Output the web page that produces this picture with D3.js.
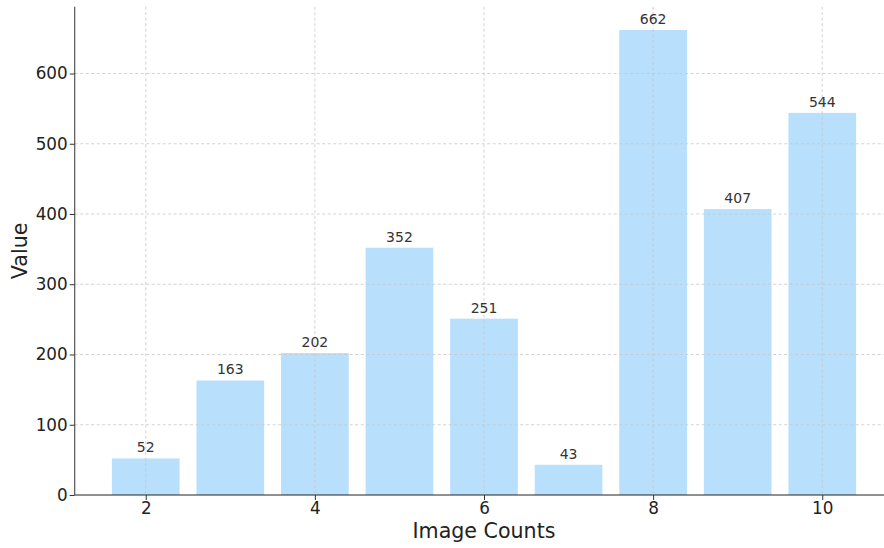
<!DOCTYPE html>
<html>
<head>
<meta charset="utf-8">
<script src="https://cdn.jsdelivr.net/npm/d3@7"></script>
<style>
  html, body { margin: 0; padding: 0; background: #fff; }
  svg { display: block; font-family: "DejaVu Sans", sans-serif; }
</style>
</head>
<body>
<svg id="chart" width="884" height="548"></svg>
<script>
// Bar chart data
const categories = [2, 3, 4, 5, 6, 7, 8, 9, 10];
const values = [52, 163, 202, 352, 251, 43, 662, 407, 544];
const xTicks = [2, 4, 6, 8, 10];
const yTicks = [0, 100, 200, 300, 400, 500, 600];
const xLabel = "Image Counts";
const yLabel = "Value";

const svg = d3.select("#chart");
const margin = { left: 74.7, right: -9.3, top: 6.7, bottom: 53 };
const W = 884, H = 548;
const x0 = margin.left, x1 = W - margin.right;
const y0 = H - margin.bottom, y1 = margin.top;

const barW = 0.8;
const xMin = d3.min(categories) - barW / 2, xMax = d3.max(categories) + barW / 2;
const pad = (xMax - xMin) * 0.05;
const x = d3.scaleLinear().domain([xMin - pad, xMax + pad]).range([x0, x1]);
const y = d3.scaleLinear().domain([0, d3.max(values) * 1.05]).range([y0, y1]);

const barColor = "#b8dffc";

// Bars
svg.append("g").selectAll("rect").data(categories).join("rect")
  .attr("x", d => x(d - barW / 2))
  .attr("width", d => x(d + barW / 2) - x(d - barW / 2))
  .attr("y", (d, i) => y(values[i]))
  .attr("height", (d, i) => y(0) - y(values[i]))
  .attr("fill", barColor);

// Grid lines on top of the bars
const grid = svg.append("g").attr("stroke", "#c8c8c8").attr("stroke-width", 0.8)
  .attr("stroke-dasharray", "3,2.5");
grid.selectAll("line.gy").data(yTicks.filter(t => t > 0)).join("line")
  .attr("x1", x0).attr("x2", W).attr("y1", d => y(d)).attr("y2", d => y(d));
grid.selectAll("line.gx").data(xTicks).join("line")
  .attr("x1", d => x(d)).attr("x2", d => x(d)).attr("y1", y1).attr("y2", y0);

// Value labels
svg.append("g").selectAll("text").data(categories).join("text")
  .attr("x", d => x(d))
  .attr("y", (d, i) => y(values[i]) - 6)
  .attr("text-anchor", "middle")
  .attr("font-size", 14)
  .attr("fill", "#333")
  .text((d, i) => values[i]);

// Axes
const xAxis = d3.axisBottom(x).tickValues(xTicks).tickSize(5).tickPadding(2);
const yAxis = d3.axisLeft(y).tickValues(yTicks).tickSize(5).tickPadding(2);

const gx = svg.append("g").attr("transform", `translate(0,${y0})`).call(xAxis);
gx.select(".domain").attr("stroke", "#222").attr("stroke-width", 1.2)
  .attr("d", `M${x0},0H${W + 20}`);
gx.selectAll(".tick line").attr("stroke", "#333");
gx.selectAll(".tick text").attr("font-size", 16.8).attr("fill", "#222")
  .attr("font-family", "DejaVu Sans");

const gy = svg.append("g").attr("transform", `translate(${x0},0)`).call(yAxis);
gy.select(".domain").attr("stroke", "#555").attr("stroke-width", 1.2)
  .attr("d", `M0,${y1}V${y0}`);
gy.selectAll(".tick line").attr("stroke", "#333");
gy.selectAll(".tick text").attr("font-size", 16.8).attr("fill", "#222")
  .attr("font-family", "DejaVu Sans");

// Axis titles
svg.append("text")
  .attr("x", 484)
  .attr("y", 538)
  .attr("text-anchor", "middle")
  .attr("font-size", 20.6)
  .attr("fill", "#222")
  .text(xLabel);

svg.append("text")
  .attr("transform", `translate(27,${(y0 + y1) / 2}) rotate(-90)`)
  .attr("text-anchor", "middle")
  .attr("font-size", 20.6)
  .attr("fill", "#222")
  .text(yLabel);
</script>
</body>
</html>
